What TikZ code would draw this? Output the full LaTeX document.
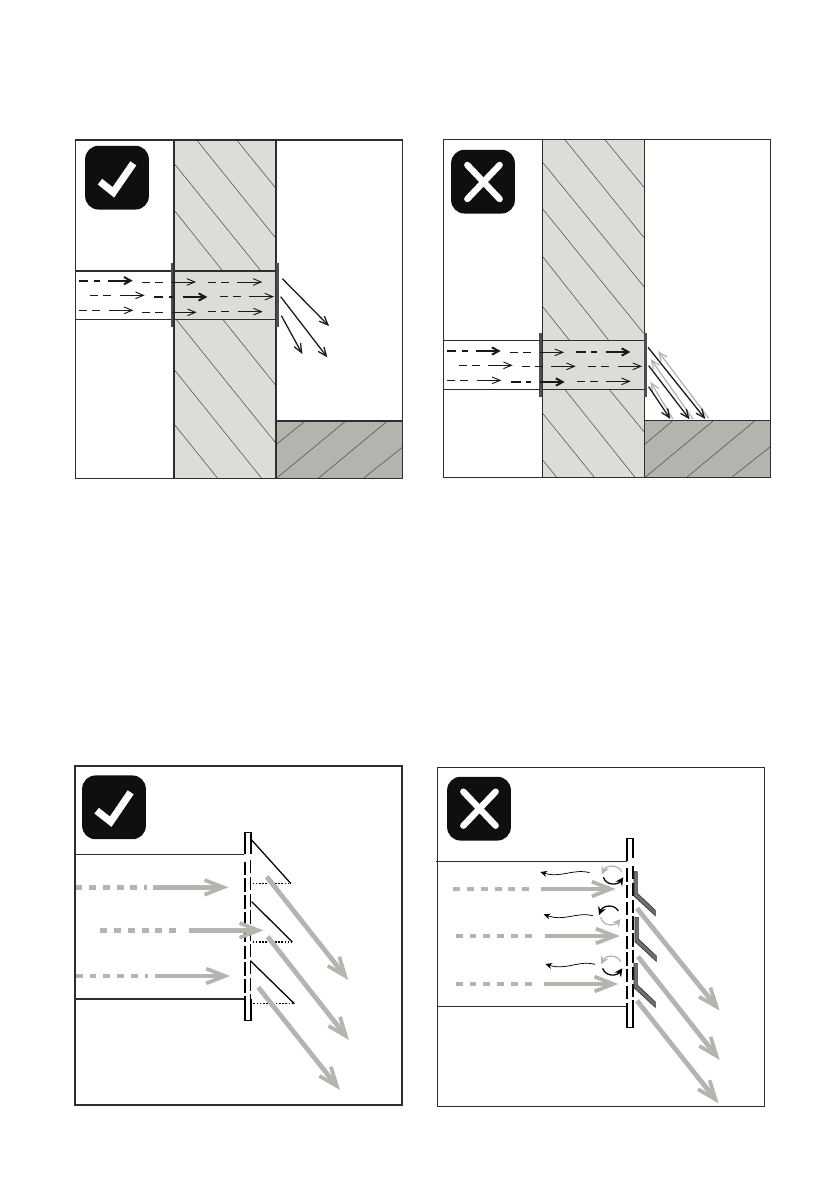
\documentclass[tikz,border=0pt]{standalone}
\usetikzlibrary{arrows.meta}
\definecolor{wallgrey}{HTML}{DDDCD7}
\definecolor{floorgrey}{HTML}{B4B3AE}
\definecolor{flowgrey}{HTML}{B5B4AF}
\definecolor{badgeblack}{HTML}{0F0F0D}
\definecolor{louvregrey}{HTML}{707070}
\definecolor{linegrey}{HTML}{2E2E2E}
\begin{document}
\begin{tikzpicture}[x=0.75pt,y=-0.75pt]
  \tikzstyle{frameline} = [draw=linegrey, line width=.85pt]
  \tikzstyle{ductline} = [draw=linegrey, line width=1.2pt]
  \tikzstyle{hatch} = [draw=linegrey!85, line width=.4pt]
  \tikzstyle{flange} = [draw=linegrey!85, line width=2.2pt]
  \tikzstyle{thinflow} = [draw=black!90, line width=.7pt]
  \tikzstyle{thickflow} = [draw=black!90, line width=1.5pt]
  \tikzstyle{thindash} = [thinflow, dash pattern=on 6pt off 4pt]
  \tikzstyle{thickdash} = [thickflow, dash pattern=on 7pt off 4pt]
  \tikzstyle{thinarrow} = [thinflow, -{Straight Barb[length=6pt,width=5pt]}]
  \tikzstyle{thickarrow} = [thickflow, -{Straight Barb[length=5pt,width=5.5pt]}]
  \tikzstyle{exitarrow} = [draw=black!90, line width=.95pt, -{Straight Barb[length=6.5pt,width=5.5pt]}]
  \tikzstyle{backarrow} = [draw=flowgrey, line width=.95pt, -{Straight Barb[length=6.5pt,width=5.5pt]}]
  \tikzstyle{greyarrow} = [draw=flowgrey, line width=3.6pt, -{Straight Barb[length=14pt,width=11pt,line width=2.8pt]}]
  \tikzstyle{greydash} = [draw=flowgrey, line width=3.6pt, dash pattern=on 5.2pt off 5.2pt]
  \tikzstyle{badge} = [fill=badgeblack, rounded corners=10pt, minimum size=47.8pt, inner sep=0pt]
  \tikzstyle{tickmark} = [draw=white, line width=5.4pt]
  \tikzstyle{crossmark} = [draw=white, line width=4.8pt, line cap=round]
  \tikzstyle{grille} = [draw=black, line width=1.2pt]
  \tikzstyle{grilledash} = [grille, dash pattern=on 10pt off 2.6pt]
  \tikzstyle{louvre} = [draw=black, line width=.95pt]
  \tikzstyle{louvredot} = [draw=black, line width=1.1pt, dash pattern=on 1.2pt off 1.2pt]
  \tikzstyle{vane} = [draw=black!80, line width=.5pt, fill=louvregrey]
  \tikzstyle{swirl} = [line width=.95pt]
  \tikzstyle{leak} = [draw=black, line width=.55pt, -{Stealth[length=5pt,width=4.5pt]}]
  \useasboundingbox (0,0) rectangle (839,1191);

  % top left
  \begin{scope}[shift={(70,135)},scale=1/3]
    \fill[wallgrey] (312,15) rectangle (618,1030);
    \fill[floorgrey] (619,858) rectangle (997,1030);
    \foreach \xa/\ya/\xb/\yb in {380/15/618/310, 500/15/618/160, 312/85/573/408, 312/225/458/408,
        320/555/618/925, 460/555/618/752, 312/703/575/1030, 312/867/443/1030,
        619/928/703/860, 619/1030/825/860, 745/1030/950/860, 880/1030/997/937}
      \draw[hatch] (\xa,\ya) -- (\xb,\yb);
    \draw[frameline] (312,15) -- (312,1030) (618,15) -- (618,1030) (619,858) -- (997,858);
    \draw[frameline] (17,408) -- (618,408) (17,553) -- (618,553);
    \draw[flange] (306,385) -- (306,575);
    \draw[flange] (622,385) -- (622,575);
    \draw[thickdash] (27,437) -- (90,437);
    \draw[thickarrow] (115,437) -- (188,437);
    \draw[thindash] (215,441) -- (280,441);
    \draw[thinarrow] (306,441) -- (378,441);
    \draw[thindash] (413,441) -- (480,441);
    \draw[thinarrow] (502,441) -- (577,441);
    \draw[thindash] (60,481) -- (125,481);
    \draw[thinarrow] (150,481) -- (224,481);
    \draw[thickdash] (252,486) -- (308,486);
    \draw[thickarrow] (340,486) -- (412,486);
    \draw[thindash] (450,485) -- (515,485);
    \draw[thinarrow] (537,485) -- (612,485);
    \draw[thindash] (27,526) -- (90,526);
    \draw[thinarrow] (117,526) -- (190,526);
    \draw[thindash] (215,532) -- (280,532);
    \draw[thinarrow] (306,532) -- (380,532);
    \draw[thindash] (413,530) -- (480,530);
    \draw[thinarrow] (505,530) -- (578,530);
    \draw[exitarrow] (637,431) -- (777,573);
    \draw[exitarrow] (632,485) -- (772,667);
    \draw[exitarrow] (634,542) -- (697,657);
    \draw[frameline] (17,15) rectangle (997,1030);
    \node[badge] (okTop) at (141,128) {};
    \draw[tickmark] (90,140) -- (130,172) -- (190,85);
  \end{scope}

  % top right
  \begin{scope}[shift={(438,135)},scale=1/3]
    \fill[wallgrey] (313,13) rectangle (619,1028);
    \fill[floorgrey] (620,857) rectangle (997,1028);
    \foreach \xa/\ya/\xb/\yb in {380/13/618/308, 500/13/618/157, 314/82/618/455, 314/222/617/595,
        314/365/513/617, 314/515/395/617, 382/765/592/1028, 515/765/618/890, 314/835/470/1028, 314/975/357/1028,
        620/928/703/858, 620/1028/825/858, 745/1028/950/858, 880/1028/997/935}
      \draw[hatch] (\xa,\ya) -- (\xb,\yb);
    \draw[frameline] (313,13) -- (313,1028) (619,13) -- (619,1028) (620,857) -- (997,857);
    \draw[frameline] (17,617) -- (619,617) (17,763) -- (619,763);
    \draw[flange] (307,595) -- (307,785);
    \draw[flange] (622,595) -- (622,785);
    \draw[thickdash] (27,648) -- (90,648);
    \draw[thickarrow] (115,648) -- (188,648);
    \draw[thindash] (215,652) -- (280,652);
    \draw[thinarrow] (306,652) -- (378,652);
    \draw[thickdash] (415,651) -- (478,651);
    \draw[thickarrow] (505,651) -- (577,651);
    \draw[thindash] (63,691) -- (125,691);
    \draw[thinarrow] (150,691) -- (224,691);
    \draw[thindash] (252,694) -- (315,694);
    \draw[thinarrow] (340,694) -- (413,694);
    \draw[thindash] (450,694) -- (515,694);
    \draw[thinarrow] (540,694) -- (612,694);
    \draw[thindash] (27,736) -- (90,736);
    \draw[thinarrow] (117,736) -- (190,736);
    \draw[thickdash] (220,741) -- (280,741);
    \draw[thickarrow] (306,741) -- (380,741);
    \draw[thindash] (417,739) -- (480,739);
    \draw[thinarrow] (505,739) -- (578,739);
    \draw[backarrow] (812,850) -- (660,648);
    \draw[backarrow] (765,852) -- (638,672);
    \draw[backarrow] (705,852) -- (637,740);
    \draw[exitarrow] (630,637) -- (802,852);
    \draw[exitarrow] (632,692) -- (755,853);
    \draw[exitarrow] (632,755) -- (697,852);
    \draw[frameline] (17,13) rectangle (997,1028);
    \node[badge] (noTop) at (135,140) {};
    \draw[crossmark] (88,90) -- (185,192) (185,90) -- (88,192);
  \end{scope}

  % bottom left
  \begin{scope}[shift={(70,760)},scale=1/3]
    \draw[ductline] (15,283) -- (523,283) (15,717) -- (523,717);
    \draw[grille] (525,283) -- (525,217) -- (543,217) -- (543,283);
    \draw[grille] (525,717) -- (525,782) -- (543,782) -- (543,717);
    \draw[grilledash] (525,305) -- (525,717);
    \draw[grilledash] (541,300) -- (541,717);
    \foreach \xa/\ya/\xb/\yb/\xc in {545/240/663/371/548, 545/425/667/546/548, 541/602/673/731/550} {
      \draw[louvre] (\xa,\ya) -- (\xb,\yb);
      \draw[louvredot] (\xc,\yb) -- (\xb,\yb);
    }
    \draw[greydash] (15,382) -- (232,382);
    \draw[greyarrow] (250,382) -- (475,382);
    \draw[greydash] (90,511) -- (318,511);
    \draw[greyarrow] (358,511) -- (580,511);
    \draw[greydash] (17,648) -- (235,648);
    \draw[greyarrow] (256,648) -- (480,648);
    \draw[greyarrow] (590,350) -- (835,660);
    \draw[greyarrow] (593,530) -- (837,840);
    \draw[greyarrow] (565,682) -- (810,990);
    \draw[frameline, line width=1.3pt] (15,18) rectangle (997,1035);
    \node[badge] (okBottom) at (132,142) {};
    \draw[tickmark] (80,152) -- (122,185) -- (182,97);
  \end{scope}

  % bottom right
  \begin{scope}[shift={(433,760)},scale=1/3]
    \draw[ductline] (10,304) -- (582,304);
    \draw[ductline] (13,740) -- (582,740);
    \draw[grille] (582,304) -- (582,236) -- (600,236) -- (600,295);
    \draw[grille] (582,740) -- (582,802) -- (600,802) -- (600,740);
    \draw[grilledash] (582,325) -- (582,740);
    \draw[grilledash] (600,318) -- (600,740);
    \foreach \dx/\dy in {0/0, 3/137, 0/275}
      \draw[vane, shift={(\dx,\dy)}] (603,335) -- (613,335) -- (613,400) -- (667,451) -- (667,467) -- (603,408) -- cycle;
    \draw[greydash] (60,387) -- (290,387);
    \draw[greyarrow] (324,387) -- (548,387);
    \draw[greydash] (68,528) -- (298,528);
    \draw[greyarrow] (336,528) -- (560,528);
    \draw[greydash] (68,672) -- (298,672);
    \draw[greyarrow] (332,672) -- (556,672);
    \draw[greyarrow] (612,445) -- (860,752);
    \draw[greyarrow] (615,590) -- (860,900);
    \draw[greyarrow] (612,722) -- (857,1030);
    \draw[leak] (470,338) .. controls (420,325) and (385,355) .. (322,336);
    \draw[leak] (480,467) .. controls (430,455) and (395,485) .. (332,463);
    \draw[leak] (486,613) .. controls (436,600) and (400,632) .. (337,612);
    \draw[swirl, draw=flowgrey, -{Stealth[length=6pt,width=6pt]}] (566,335) .. controls (555,312) and (520,315) .. (506,343);
    \draw[swirl, draw=black, -{Stealth[length=6pt,width=6pt]}] (511,352) .. controls (520,378) and (555,375) .. (571,352);
    \draw[swirl, draw=black, -{Stealth[length=6pt,width=6pt]}] (556,453) .. controls (545,432) and (510,435) .. (498,465);
    \draw[swirl, draw=flowgrey, -{Stealth[length=6pt,width=6pt]}] (503,472) .. controls (510,500) and (545,498) .. (563,477);
    \draw[swirl, draw=flowgrey, -{Stealth[length=6pt,width=6pt]}] (563,605) .. controls (552,582) and (518,585) .. (504,613);
    \draw[swirl, draw=black, -{Stealth[length=6pt,width=6pt]}] (509,625) .. controls (518,651) and (552,648) .. (568,625);
    \draw[frameline, line width=.7pt] (13,22) rectangle (995,1040);
    \node[badge] (noBottom) at (138,146) {};
    \draw[crossmark] (91,95) -- (188,197) (188,95) -- (91,197);
  \end{scope}
\end{tikzpicture}
\end{document}
